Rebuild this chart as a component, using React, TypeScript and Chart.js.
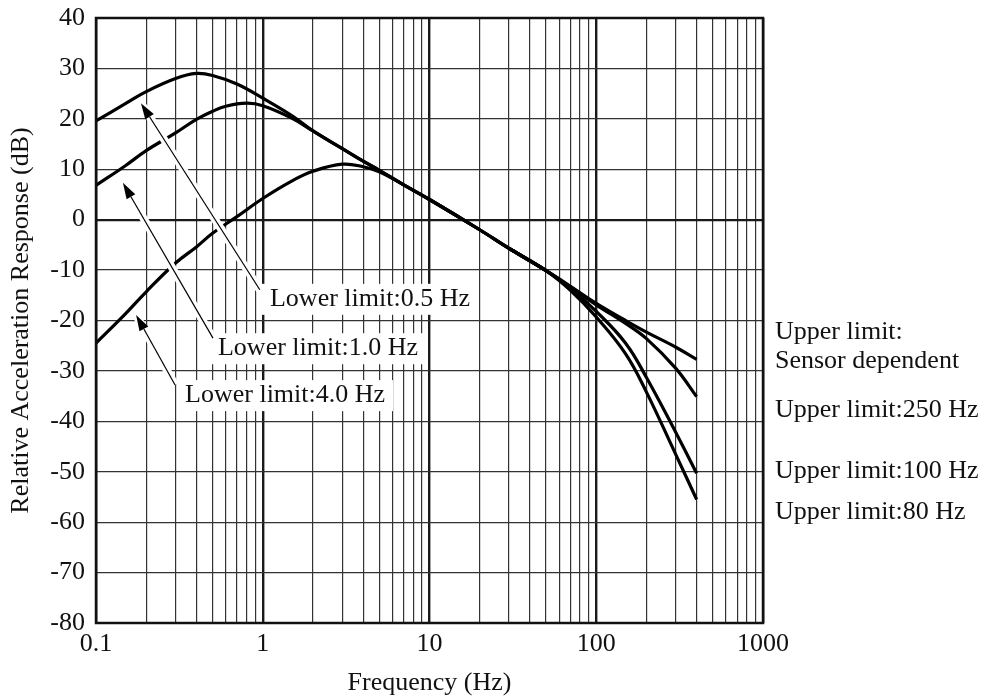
import React, { useEffect, useRef } from "react";
import { Chart, registerables } from "chart.js";

Chart.register(...registerables);

// ---------- data ----------
const freq05 = [0.1, 0.15, 0.2, 0.3, 0.4, 0.5, 0.7, 1, 1.5, 2, 3, 4, 5, 7, 10, 20, 30, 50];
const lower05 = [19.6, 23.0, 25.4, 28.0, 29.0, 28.6, 26.9, 24.1, 20.6, 17.6, 14.1, 11.6, 9.8, 6.9, 4.0, -2.0, -5.7, -10.1];

const freq10 = [0.1, 0.15, 0.2, 0.3, 0.4, 0.5, 0.6, 0.8, 1, 1.5, 2, 3, 4, 5, 7, 10, 20, 30, 50];
const lower10 = [6.8, 10.7, 13.7, 17.2, 19.9, 21.5, 22.5, 23.1, 22.6, 20.1, 17.6, 14.1, 11.6, 9.8, 6.9, 4.0, -2.0, -5.7, -10.1];

const freq40 = [0.1, 0.15, 0.2, 0.3, 0.4, 0.5, 0.7, 1, 1.5, 2, 3, 4, 5, 7, 10, 20, 30, 50];
const lower40 = [-24.5, -18.7, -14.3, -8.6, -5.4, -2.7, 0.6, 4.2, 7.7, 9.6, 11.0, 10.5, 9.5, 6.9, 4.0, -2.0, -5.7, -10.1];

const freqUpper = [30, 50, 70, 100, 150, 200, 300, 400];
const upperSensor = [-5.7, -10.1, -13.2, -16.6, -20.0, -22.3, -25.3, -27.7];
const upper250 = [-5.7, -10.1, -13.3, -16.9, -20.6, -23.6, -29.5, -35.1];
const upper100 = [-5.7, -10.1, -13.6, -18.2, -24.5, -31.3, -42.2, -50.3];
const upper80 = [-5.7, -10.1, -14.0, -19.3, -26.6, -34.2, -46.6, -55.5];

const xDecades = [0.1, 1, 10, 100, 1000];
const xMultiples = [1, 2, 3, 4, 5, 6, 7, 8, 9];
const yMin = -80;
const yMax = 40;
const yStep = 10;

const xTitle = "Frequency (Hz)";
const yTitle = "Relative Acceleration Response (dB)";

// lower-limit labels: text anchor (freq, dB) and arrow tail/tip (freq, dB)
const lowerLabels = ["Lower limit:0.5 Hz", "Lower limit:1.0 Hz", "Lower limit:4.0 Hz"];
const lowerLabelAt = [
  [1.105, -15.7],
  [0.539, -25.5],
  [0.342, -34.8],
];
const arrowTail = [
  [0.96, -13.9],
  [0.503, -23.5],
  [0.298, -32.8],
];
const arrowTip = [
  [0.186, 23.1],
  [0.145, 7.3],
  [0.174, -18.9],
];

// upper-limit labels at the right side (dB of text centre)
const upperLabels = ["Upper limit:", "Sensor dependent", "Upper limit:250 Hz", "Upper limit:100 Hz", "Upper limit:80 Hz"];
const upperLabelDb = [-22.3, -28.0, -37.7, -49.8, -58.0];

const FONT = "'Liberation Serif', 'Times New Roman', serif";

const isDecade = (v: number) => {
  const l = Math.log10(v);
  return Math.abs(l - Math.round(l)) < 1e-9;
};

function pts(xs: number[], ys: number[]) {
  return xs.map((x, i) => ({ x, y: ys[i] }));
}

export default function App() {
  const ref = useRef<HTMLCanvasElement | null>(null);

  useEffect(() => {
    document.body.style.margin = "0";
    const canvas = ref.current;
    if (!canvas) return;

    const gridValues: number[] = [];
    xDecades.slice(0, -1).forEach((d) => xMultiples.forEach((m) => gridValues.push(d * m)));
    gridValues.push(xDecades[xDecades.length - 1]);

    const annot = {
      id: "annot",
      afterDatasetsDraw(chart: any) {
        const ctx = chart.ctx as CanvasRenderingContext2D;
        const xs = chart.scales.x;
        const ys = chart.scales.y;
        const ca = chart.chartArea;
        ctx.save();
        ctx.font = `26px ${FONT}`;
        ctx.textBaseline = "middle";
        ctx.textAlign = "left";

        // halos of arrows
        for (let i = 0; i < arrowTail.length; i++) {
          const x1 = xs.getPixelForValue(arrowTail[i][0]);
          const y1 = ys.getPixelForValue(arrowTail[i][1]);
          const x2 = xs.getPixelForValue(arrowTip[i][0]);
          const y2 = ys.getPixelForValue(arrowTip[i][1]);
          ctx.strokeStyle = "#fff";
          ctx.lineWidth = 8;
          ctx.lineCap = "butt";
          ctx.beginPath();
          ctx.moveTo(x1, y1);
          ctx.lineTo(x2, y2);
          ctx.stroke();
        }
        // boxes
        for (let i = 0; i < lowerLabels.length; i++) {
          const tx = xs.getPixelForValue(lowerLabelAt[i][0]);
          const ty = ys.getPixelForValue(lowerLabelAt[i][1]);
          const w = ctx.measureText(lowerLabels[i]).width;
          ctx.fillStyle = "#fff";
          ctx.fillRect(tx - 8, ty - 15, w + 16, 31);
        }
        // arrows
        for (let i = 0; i < arrowTail.length; i++) {
          const x1 = xs.getPixelForValue(arrowTail[i][0]);
          const y1 = ys.getPixelForValue(arrowTail[i][1]);
          const x2 = xs.getPixelForValue(arrowTip[i][0]);
          const y2 = ys.getPixelForValue(arrowTip[i][1]);
          const a = Math.atan2(y2 - y1, x2 - x1);
          const hl = 16;
          const hw = 5;
          const bx = x2 - hl * Math.cos(a);
          const by = y2 - hl * Math.sin(a);
          ctx.strokeStyle = "#000";
          ctx.lineWidth = 1.2;
          ctx.beginPath();
          ctx.moveTo(x1, y1);
          ctx.lineTo(bx, by);
          ctx.stroke();
          ctx.fillStyle = "#000";
          ctx.beginPath();
          ctx.moveTo(x2, y2);
          ctx.lineTo(bx + hw * Math.sin(a), by - hw * Math.cos(a));
          ctx.lineTo(bx - hw * Math.sin(a), by + hw * Math.cos(a));
          ctx.closePath();
          ctx.fill();
        }
        // lower labels text
        ctx.fillStyle = "#111";
        for (let i = 0; i < lowerLabels.length; i++) {
          const tx = xs.getPixelForValue(lowerLabelAt[i][0]);
          const ty = ys.getPixelForValue(lowerLabelAt[i][1]);
          ctx.fillText(lowerLabels[i], tx, ty);
        }
        // upper labels
        for (let i = 0; i < upperLabels.length; i++) {
          ctx.fillText(upperLabels[i], ca.right + 12, ys.getPixelForValue(upperLabelDb[i]));
        }
        // frame
        ctx.strokeStyle = "#111";
        ctx.lineWidth = 2.5;
        ctx.strokeRect(ca.left, ca.top, ca.right - ca.left, ca.bottom - ca.top);
        ctx.restore();
      },
    };

    const line = (data: any[]) => ({
      data,
      borderColor: "#000",
      borderWidth: 3.2,
      pointRadius: 0,
      fill: false,
      tension: 0.4,
      clip: false as any,
    });

    const chart = new Chart(canvas, {
      type: "line",
      data: {
        datasets: [
          line(pts(freq05, lower05)),
          line(pts(freq10, lower10)),
          line(pts(freq40, lower40)),
          line(pts(freqUpper, upperSensor)),
          line(pts(freqUpper, upper250)),
          line(pts(freqUpper, upper100)),
          line(pts(freqUpper, upper80)),
        ] as any,
      },
      options: {
        animation: false,
        responsive: false,
        maintainAspectRatio: false,
        devicePixelRatio: 1,
        layout: { padding: { top: 18, right: 224, left: 0, bottom: 0 } },
        plugins: { legend: { display: false }, tooltip: { enabled: false } },
        scales: {
          x: {
            type: "logarithmic",
            min: 0.1,
            max: 1000,
            afterBuildTicks: (s: any) => {
              s.ticks = gridValues.map((v) => ({ value: v, major: isDecade(v) }));
            },
            afterFit: (s: any) => {
              s.height = 76;
            },
            ticks: {
              autoSkip: false,
              maxRotation: 0,
              minRotation: 0,
              color: "#111",
              padding: 6,
              font: { family: FONT, size: 26 },
              callback: (v: any) => (isDecade(Number(v)) ? String(Number(v)) : ""),
            },
            grid: {
              drawTicks: false,
              color: (c: any) => (c.tick && isDecade(c.tick.value) ? "#1a1a1a" : "#333333"),
              lineWidth: (c: any) => (c.tick && isDecade(c.tick.value) ? 2.4 : 1.2),
            },
            border: { display: false },
            title: {
              display: true,
              text: xTitle,
              color: "#111",
              font: { family: FONT, size: 26 },
              padding: { top: 8, bottom: 0 },
            },
          } as any,
          y: {
            type: "linear",
            min: yMin,
            max: yMax,
            afterFit: (s: any) => {
              s.width = 96;
              s.paddingTop = 0;
              s.paddingBottom = 0;
            },
            ticks: {
              stepSize: yStep,
              color: "#111",
              padding: 11,
              font: { family: FONT, size: 26 },
            },
            grid: {
              drawTicks: false,
              color: (c: any) => (c.tick && c.tick.value === 0 ? "#1a1a1a" : "#333333"),
              lineWidth: (c: any) => (c.tick && c.tick.value === 0 ? 2.2 : 1.2),
            },
            border: { display: false },
            title: {
              display: true,
              text: yTitle,
              color: "#111",
              font: { family: FONT, size: 26 },
              padding: { top: 6, bottom: 0 },
            },
          } as any,
        },
      },
      plugins: [annot],
    });

    return () => chart.destroy();
  }, []);

  return (
    <div style={{ position: "absolute", left: 0, top: 0, width: 987, height: 699, background: "#fff" }}>
      <canvas ref={ref} width={987} height={699} />
    </div>
  );
}
